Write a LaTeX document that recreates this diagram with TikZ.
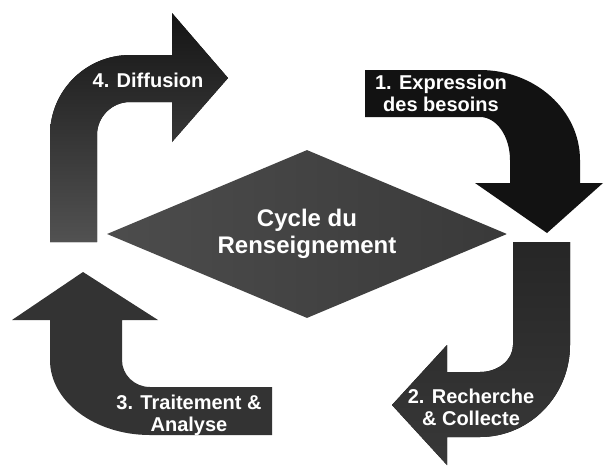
\documentclass[tikz,border=0pt]{standalone}
\usepackage{fontspec}
\setmainfont{Liberation Sans}
\usepackage{tikz}
\usetikzlibrary{shapes.geometric}

\begin{document}
\begin{tikzpicture}[x=1pt,y=-1pt,
    arrowshape/.style={draw=none},
    lbl/.style={text=white,align=center,font=\bfseries\fontsize{20}{22}\selectfont},
    hub/.style={diamond,aspect=2.38,minimum width=400pt,minimum height=168pt,inner sep=0pt,
        left color=gray!60!black,right color=gray!45!black,text=white,align=center,
        font=\bfseries\fontsize{24}{27}\selectfont}]
    \useasboundingbox[fill=white] (0,0) rectangle (605,467);
    \fill[arrowshape,top color=black!92,bottom color=black!68]
        (50,242) -- (50,135) .. controls (50,90.8) and (85.8,55) .. (130,55)
        -- (172,55) -- (172,13) -- (228,78) -- (172,142) -- (172,102) -- (130,102)
        .. controls (111.8,102) and (97,116.8) .. (97,135) -- (97,242) -- cycle;
    \fill[arrowshape,fill=black!93]
        (365,70) -- (480,70) .. controls (535.2,70) and (580,110.3) .. (580,160)
        -- (580,183) -- (603,183) -- (547,233) -- (475,183) -- (510,183) -- (510,160)
        .. controls (510,136.3) and (496.6,117) .. (480,117) -- (365,117) -- cycle;
    \fill[arrowshape,top color=black!85,bottom color=black!78]
        (513,242) -- (570,242) -- (570,345) .. controls (570,395.8) and (529.7,437) .. (480,437)
        -- (447,437) -- (447,465) -- (392,405) -- (447,345) -- (447,372) -- (480,372)
        .. controls (498.2,372) and (513,359.9) .. (513,345) -- cycle;
    \fill[arrowshape,fill=black!80]
        (272,435) -- (150,435) .. controls (94.8,435) and (50,401.4) .. (50,360)
        -- (50,320) -- (12,320) -- (83,272) -- (158,320) -- (122,320) -- (122,360)
        .. controls (122,374.9) and (134.5,387) .. (150,387) -- (272,387) -- cycle;
    \node[hub] (cycle) at (307,234) {Cycle du\\Renseignement};
    \node[lbl] (besoins) at (441,93) {1. Expression\\des besoins};
    \node[lbl] (collecte) at (471,407) {2. Recherche\\\& Collecte};
    \node[lbl] (analyse) at (189,415) {3. Traitement \&\\Analyse};
    \node[lbl] (diffusion) at (148,80) {4. Diffusion};
\end{tikzpicture}
\end{document}
